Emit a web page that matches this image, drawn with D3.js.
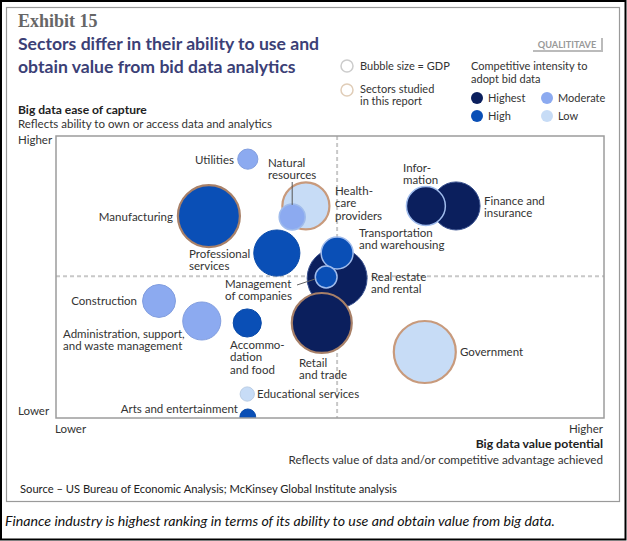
<!DOCTYPE html>
<html><head><meta charset="utf-8">
<script src="https://cdn.jsdelivr.net/npm/d3@7"></script>
<style>
html,body{margin:0;padding:0;background:#fff;}
svg{display:block;}
</style></head>
<body>
<script>
// ---- data ----
const sectors = ["Utilities","Health-care providers","Natural resources","Manufacturing","Professional services","Finance and insurance","Information","Real estate and rental","Transportation and warehousing","Management of companies","Retail and trade","Construction","Administration, support, and waste management","Accommodation and food","Government","Educational services","Arts and entertainment"];
const valuePotential = [35.0,45.6,43.1,27.9,40.3,73.0,67.5,51.3,51.3,49.3,48.5,18.8,26.6,34.9,67.3,34.9,35.0];
const easeOfCapture  = [91.8,75.2,71.3,71.6,58.5,75.2,75.2,49.6,58.5,50.0,33.7,41.5,34.4,33.7,23.4,8.5,0.4];
const gdp            = [180,980,300,1700,940,1020,670,1590,450,210,1590,480,640,350,1700,90,110];
const intensity      = ["Moderate","Low","Moderate","High","High","Highest","Highest","Highest","High","High","Highest","Moderate","Moderate","High","Low","Low","High"];
const studied        = [false,true,false,true,false,false,false,false,false,false,true,false,false,false,true,false,false];
const intensityLevels = ["Highest","High","Moderate","Low"];
const axisEnds = ["Lower","Higher"];

const W=627,H=541;
const svg=d3.select("body").append("svg").attr("width",W).attr("height",H);
const FONT="Lato, 'Open Sans', sans-serif";

// frames
svg.append("rect").attr("x",1).attr("y",1).attr("width",W-2.5).attr("height",H-2.5).attr("fill","none").attr("stroke","#000").attr("stroke-width",2);
svg.append("rect").attr("x",6.5).attr("y",7.5).attr("width",613).attr("height",494).attr("fill","none").attr("stroke","#9a9a9a").attr("stroke-width",1.2);

const color=d3.scaleOrdinal().domain(intensityLevels).range(["#0b1f5d","#0a4fb6","#8caaf0","#c7dcf6"]);
const x=d3.scaleLinear().domain([0,100]).range([56,604]);
const y=d3.scaleLinear().domain([0,100]).range([418,136]);
const r=d3.scaleSqrt().domain([0,1700]).range([0,31]);

// titles
svg.append("text").attr("x",18).attr("y",27).text("Exhibit 15")
  .attr("font-family","'Liberation Serif', 'DejaVu Serif', serif").attr("font-weight","bold").attr("font-size",18).attr("fill","#666");
const t=svg.append("text").attr("font-family",FONT).attr("font-weight","bold").attr("font-size",17.6).attr("fill","#3b4076");
t.append("tspan").attr("x",18).attr("y",50).text("Sectors differ in their ability to use and");
t.append("tspan").attr("x",18).attr("y",73).text("obtain value from bid data analytics");

const txt=(xx,yy,s,opt={})=>svg.append("text").attr("x",xx).attr("y",yy).text(s)
  .attr("font-family",FONT).attr("font-size",opt.size||11.5).attr("fill",opt.fill||"#333")
  .attr("font-weight",opt.bold?"bold":"normal").attr("text-anchor",opt.anchor||"start")
  .attr("font-style",opt.italic?"italic":"normal");
txt(18,114,"Big data ease of capture",{bold:true,fill:"#222",size:12.1});
txt(18,128,"Reflects ability to own or access data and analytics",{size:11.5});
txt(18,144,axisEnds[1]);
txt(18,415,axisEnds[0]);
txt(55,433,axisEnds[0]);
txt(603,433,axisEnds[1],{anchor:"end"});
txt(603,448,"Big data value potential",{bold:true,anchor:"end",fill:"#222",size:12.2});
txt(603,464,"Reflects value of data and/or competitive advantage achieved",{anchor:"end",size:11.7});
txt(20,493,"Source \u2013 US Bureau of Economic Analysis; McKinsey Global Institute analysis",{size:11.2,fill:"#222"});
txt(5,526,"Finance industry is highest ranking in terms of its ability to use and obtain value from big data.",{size:14.2,italic:true,fill:"#111"});

// legend
const lg=svg.append("g");
lg.append("rect").attr("x",532).attr("y",37).attr("width",69).attr("height",13).attr("fill","#fff");
lg.append("path").attr("d","M602,38 V51 H533").attr("fill","none").attr("stroke","#bbb").attr("stroke-width",2);
txt(567,48,"QUALITITAVE",{size:9.2,bold:true,fill:"#999",anchor:"middle"});
lg.append("circle").attr("cx",347).attr("cy",66).attr("r",6).attr("fill","#fff").attr("stroke","#ccc").attr("stroke-width",1.5);
txt(360,70,"Bubble size = GDP",{size:11});
lg.append("circle").attr("cx",347).attr("cy",90).attr("r",6).attr("fill","#fff").attr("stroke","#e0cdb8").attr("stroke-width",1.5);
txt(360,93,"Sectors studied",{size:11});
txt(360,105,"in this report",{size:11});
txt(471,70,"Competitive intensity to",{size:11});
txt(471,83,"adopt bid data",{size:11});
const legPos=[[477,98],[477,116],[547,98],[547,116]];
intensityLevels.forEach((lv,i)=>{
  lg.append("circle").attr("cx",legPos[i][0]).attr("cy",legPos[i][1]).attr("r",6).attr("fill",color(lv));
  txt(legPos[i][0]+11,legPos[i][1]+4,lv,{size:11});
});

// plot area
svg.append("defs").append("clipPath").attr("id","clip").append("rect")
  .attr("x",x(0)).attr("y",y(100)).attr("width",x(100)-x(0)).attr("height",y(0)-y(100));
svg.append("rect").attr("x",x(0)).attr("y",y(100)).attr("width",x(100)-x(0)).attr("height",y(0)-y(100))
  .attr("fill","#fff");
const g=svg.append("g").attr("clip-path","url(#clip)");
g.append("line").attr("x1",x(51.3)).attr("x2",x(51.3)).attr("y1",y(100)).attr("y2",y(0))
  .attr("stroke","#c8c8c8").attr("stroke-width",2).attr("stroke-dasharray","4,3");
g.append("line").attr("x1",x(0)).attr("x2",x(100)).attr("y1",y(50.3)).attr("y2",y(50.3))
  .attr("stroke","#c8c8c8").attr("stroke-width",2).attr("stroke-dasharray","4,3");

const data=sectors.map((s,i)=>({s,x:valuePotential[i],y:easeOfCapture[i],gdp:gdp[i],lv:intensity[i],st:studied[i]}));
const onTop=new Set(["Information","Transportation and warehousing","Management of companies","Natural resources"]);
g.selectAll("circle.b").data(data).join("circle").attr("class","b")
  .attr("cx",d=>x(d.x)).attr("cy",d=>y(d.y)).attr("r",d=>r(d.gdp))
  .attr("fill",d=>color(d.lv))
  .attr("stroke",d=>d.st?(d.lv==="Low"?"#c89a7c":"#a88068"):(onTop.has(d.s)?"#9fbbec":(d.lv==="Highest"?"#3a5290":d3.color(color(d.lv)).darker(0.2))))
  .attr("stroke-width",d=>d.st?2.2:(onTop.has(d.s)?1.5:1));
svg.append("rect").attr("x",x(0)).attr("y",y(100)).attr("width",x(100)-x(0)).attr("height",y(0)-y(100))
  .attr("fill","none").attr("stroke","#9c9c9c").attr("stroke-width",1.5);

// leader lines
svg.append("line").attr("x1",x(43.1)).attr("x2",x(43.1)).attr("y1",182).attr("y2",y(71.3)-12).attr("stroke","#555").attr("stroke-width",1);
svg.append("line").attr("x1",297).attr("x2",x(49.3)-11).attr("y1",285).attr("y2",y(50)+2).attr("stroke","#666").attr("stroke-width",1);

// labels
const labels=[
  ["Utilities",234,164,"end"],
  ["Natural|resources",268,167,"start"],
  ["Health-|care|providers",335,195,"start"],
  ["Manufacturing",173,221,"end"],
  ["Professional|services",189,258,"start"],
  ["Infor-|mation",403,172,"start"],
  ["Finance and|insurance",484,205,"start"],
  ["Transportation|and warehousing",359,237,"start"],
  ["Real estate|and rental",371,281,"start"],
  ["Management|of companies",225,288,"start"],
  ["Construction",137,305,"end"],
  ["Administration, support,|and waste management",63,338,"start"],
  ["Accommo-|dation|and food",230,349,"start"],
  ["Retail|and trade",299,367,"start"],
  ["Government",460,356,"start"],
  ["Educational services",257,398,"start"],
  ["Arts and entertainment",238,413,"end"]
];
labels.forEach(([s,lx,ly,a])=>{
  const el=svg.append("text").attr("font-family",FONT).attr("font-size",11.5).attr("fill","#333").attr("text-anchor",a);
  s.split("|").forEach((line,i)=>el.append("tspan").attr("x",lx).attr("y",ly+i*12.3).text(line));
});
</script>
</body></html>
